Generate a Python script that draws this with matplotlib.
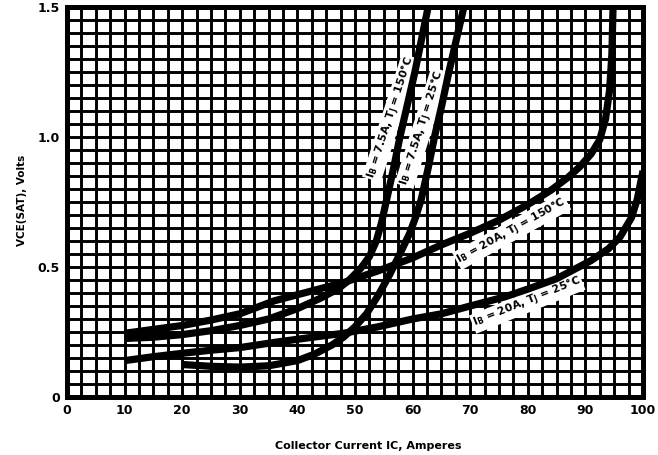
import matplotlib
matplotlib.use("Agg")
import matplotlib.pyplot as plt
import numpy as np

plt.rcParams['font.family'] = ['DejaVu Sans']
plt.rcParams['mathtext.default'] = 'bf'

# Data
a_x = [10, 15, 20, 25, 30, 35, 40, 44, 47, 49, 51, 52.5, 53.7, 54.6, 55.5, 56.7, 57.8, 59.1, 60.4, 61.5, 62.7]
a_y = [0.225, 0.23, 0.24, 0.255, 0.275, 0.30, 0.34, 0.38, 0.415, 0.45, 0.495, 0.54, 0.60, 0.67, 0.76, 0.88, 1.0, 1.125, 1.25, 1.37, 1.5]

b_x = [20, 25, 30, 35, 40, 43, 46, 48, 50, 52, 54, 56, 58, 59.5, 60.5, 61.5, 62.7, 63.8, 65.1, 66.3, 67.6, 68.9]
b_y = [0.125, 0.118, 0.115, 0.12, 0.14, 0.165, 0.2, 0.23, 0.27, 0.32, 0.39, 0.47, 0.56, 0.63, 0.69, 0.76, 0.88, 1.0, 1.125, 1.25, 1.375, 1.5]

c_x = [10, 15, 20, 25, 30, 36, 42, 48, 54, 60, 65, 70, 75, 80, 84, 87, 89, 91, 92.5, 93.5, 94.2, 94.6, 94.8]
c_y = [0.245, 0.26, 0.275, 0.296, 0.32, 0.37, 0.405, 0.44, 0.485, 0.535, 0.585, 0.63, 0.68, 0.74, 0.795, 0.845, 0.885, 0.935, 0.99, 1.07, 1.18, 1.32, 1.5]

d_x = [10, 15, 20, 25, 30, 36, 42, 48, 54, 60, 65, 70, 76, 80, 85, 88, 91, 94, 96, 98, 99, 100]
d_y = [0.14, 0.155, 0.168, 0.18, 0.19, 0.21, 0.228, 0.245, 0.27, 0.30, 0.32, 0.35, 0.385, 0.415, 0.455, 0.49, 0.525, 0.57, 0.615, 0.69, 0.76, 0.87]

curve_labels = [r"I$_B$ = 7.5A, T$_J$ = 150°C",
                r"I$_B$ = 7.5A, T$_J$ = 25°C",
                r"I$_B$ = 20A, T$_J$ = 150°C",
                r"I$_B$ = 20A, T$_J$ = 25°C"]
label_pos = [(56.3, 1.073), (61.7, 1.035), (77.2, 0.638), (79.9, 0.363)]
label_rot = [72, 72.5, 29, 22]

x_ticks = [0, 10, 20, 30, 40, 50, 60, 70, 80, 90, 100]
y_ticks = [0, 0.5, 1.0, 1.5]
y_tick_labels = ["0", "0.5", "1.0", "1.5"]

fig = plt.figure(figsize=(6.58, 4.55), dpi=100)
ax = fig.add_axes([67/658, 1 - 397/455, (643-67)/658, (397-7)/455])

ax.set_xlim(0, 100)
ax.set_ylim(0, 1.5)

# grid
for gx in np.arange(0, 100.01, 2.5):
    ax.axvline(gx, color='black', lw=2.1, zorder=1)
for gy in np.arange(0, 1.501, 0.05):
    ax.axhline(gy, color='black', lw=2.1, zorder=1)

for xs, ys in [(a_x, a_y), (b_x, b_y), (c_x, c_y), (d_x, d_y)]:
    ax.plot(xs, ys, color='black', lw=5.2, solid_capstyle='butt',
            solid_joinstyle='round', zorder=3)

for txt, (lx, ly), rot in zip(curve_labels, label_pos, label_rot):
    ax.text(lx, ly, txt, rotation=rot, rotation_mode='anchor', ha='center',
            va='center', fontsize=7.8, fontweight='bold', color='black', zorder=2,
            bbox=dict(facecolor='white', edgecolor='none', pad=0.8))

for s in ax.spines.values():
    s.set_linewidth(3.6)
    s.set_color('black')
    s.set_zorder(5)

ax.set_xticks(x_ticks)
ax.set_xticklabels([str(v) for v in x_ticks], fontsize=9, fontweight='bold')
ax.set_yticks(y_ticks)
ax.set_yticklabels(y_tick_labels, fontsize=9, fontweight='bold')
ax.tick_params(length=0, pad=5)

fig.text(368/658, 1 - 446/455, "Collector Current IC, Amperes", ha='center',
         va='center', fontsize=8, fontweight='bold')
fig.text(22/658, 1 - 200/455, "VCE(SAT), Volts", ha='center', va='center',
         rotation=90, fontsize=7.5, fontweight='bold')

fig.savefig("out.png", dpi=100, facecolor='white')
